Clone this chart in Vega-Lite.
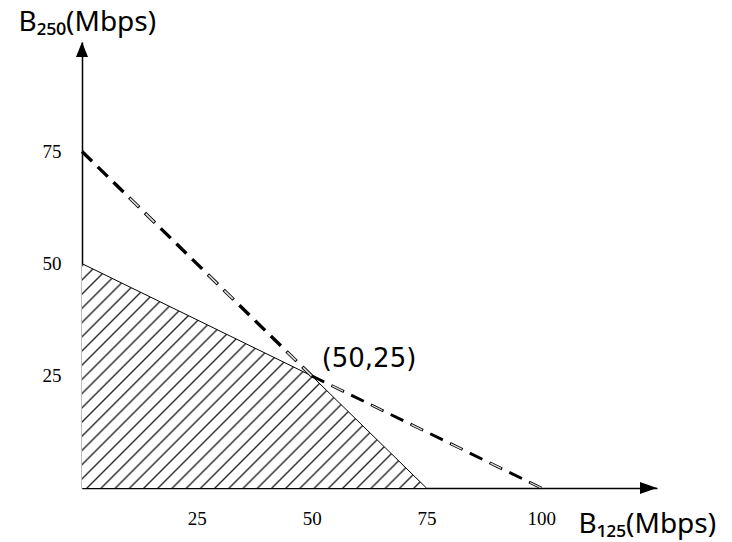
{
  "$schema": "https://vega.github.io/schema/vega-lite/v6.json",
  "width": 575,
  "height": 446,
  "autosize": {"type": "none"},
  "padding": {"left": 82, "top": 42, "right": 75, "bottom": 54},
  "background": "white",
  "config": {"view": {"stroke": null}},
  "datasets": {
    "feasible": [
      {"b125": 0, "b250": 50},
      {"b125": 50, "b250": 25},
      {"b125": 75, "b250": 0}
    ],
    "bound": [
      {"c": "A", "b125": 0, "b250": 75},
      {"c": "A", "b125": 50, "b250": 25},
      {"c": "B", "b125": 50, "b250": 25},
      {"c": "B", "b125": 100, "b250": 0}
    ],
    "one": [{"label": "(50,25)"}]
  },
  "layer": [
    {
      "data": {"name": "feasible"},
      "mark": {
        "type": "area",
        "color": {
          "gradient": "linear",
          "x1": 0, "y1": 0, "x2": 1.159, "y2": 0.755,
          "stops": [
            {"offset": 0, "color": "white"}, {"offset": 0.0035, "color": "#2a2a2a"}, {"offset": 0.007, "color": "white"},
            {"offset": 0.025, "color": "white"}, {"offset": 0.0285, "color": "#2a2a2a"}, {"offset": 0.032, "color": "white"},
            {"offset": 0.05, "color": "white"}, {"offset": 0.0535, "color": "#2a2a2a"}, {"offset": 0.057, "color": "white"},
            {"offset": 0.075, "color": "white"}, {"offset": 0.0785, "color": "#2a2a2a"}, {"offset": 0.082, "color": "white"},
            {"offset": 0.1, "color": "white"}, {"offset": 0.1035, "color": "#2a2a2a"}, {"offset": 0.107, "color": "white"},
            {"offset": 0.125, "color": "white"}, {"offset": 0.1285, "color": "#2a2a2a"}, {"offset": 0.132, "color": "white"},
            {"offset": 0.15, "color": "white"}, {"offset": 0.1535, "color": "#2a2a2a"}, {"offset": 0.157, "color": "white"},
            {"offset": 0.175, "color": "white"}, {"offset": 0.1785, "color": "#2a2a2a"}, {"offset": 0.182, "color": "white"},
            {"offset": 0.2, "color": "white"}, {"offset": 0.2035, "color": "#2a2a2a"}, {"offset": 0.207, "color": "white"},
            {"offset": 0.225, "color": "white"}, {"offset": 0.2285, "color": "#2a2a2a"}, {"offset": 0.232, "color": "white"},
            {"offset": 0.25, "color": "white"}, {"offset": 0.2535, "color": "#2a2a2a"}, {"offset": 0.257, "color": "white"},
            {"offset": 0.275, "color": "white"}, {"offset": 0.2785, "color": "#2a2a2a"}, {"offset": 0.282, "color": "white"},
            {"offset": 0.3, "color": "white"}, {"offset": 0.3035, "color": "#2a2a2a"}, {"offset": 0.307, "color": "white"},
            {"offset": 0.325, "color": "white"}, {"offset": 0.3285, "color": "#2a2a2a"}, {"offset": 0.332, "color": "white"},
            {"offset": 0.35, "color": "white"}, {"offset": 0.3535, "color": "#2a2a2a"}, {"offset": 0.357, "color": "white"},
            {"offset": 0.375, "color": "white"}, {"offset": 0.3785, "color": "#2a2a2a"}, {"offset": 0.382, "color": "white"},
            {"offset": 0.4, "color": "white"}, {"offset": 0.4035, "color": "#2a2a2a"}, {"offset": 0.407, "color": "white"},
            {"offset": 0.425, "color": "white"}, {"offset": 0.4285, "color": "#2a2a2a"}, {"offset": 0.432, "color": "white"},
            {"offset": 0.45, "color": "white"}, {"offset": 0.4535, "color": "#2a2a2a"}, {"offset": 0.457, "color": "white"},
            {"offset": 0.475, "color": "white"}, {"offset": 0.4785, "color": "#2a2a2a"}, {"offset": 0.482, "color": "white"},
            {"offset": 0.5, "color": "white"}, {"offset": 0.5035, "color": "#2a2a2a"}, {"offset": 0.507, "color": "white"},
            {"offset": 0.525, "color": "white"}, {"offset": 0.5285, "color": "#2a2a2a"}, {"offset": 0.532, "color": "white"},
            {"offset": 0.55, "color": "white"}, {"offset": 0.5535, "color": "#2a2a2a"}, {"offset": 0.557, "color": "white"},
            {"offset": 0.575, "color": "white"}, {"offset": 0.5785, "color": "#2a2a2a"}, {"offset": 0.582, "color": "white"},
            {"offset": 0.6, "color": "white"}, {"offset": 0.6035, "color": "#2a2a2a"}, {"offset": 0.607, "color": "white"},
            {"offset": 0.625, "color": "white"}, {"offset": 0.6285, "color": "#2a2a2a"}, {"offset": 0.632, "color": "white"},
            {"offset": 0.65, "color": "white"}, {"offset": 0.6535, "color": "#2a2a2a"}, {"offset": 0.657, "color": "white"},
            {"offset": 0.675, "color": "white"}, {"offset": 0.6785, "color": "#2a2a2a"}, {"offset": 0.682, "color": "white"},
            {"offset": 0.7, "color": "white"}, {"offset": 0.7035, "color": "#2a2a2a"}, {"offset": 0.707, "color": "white"},
            {"offset": 0.725, "color": "white"}, {"offset": 0.7285, "color": "#2a2a2a"}, {"offset": 0.732, "color": "white"},
            {"offset": 0.75, "color": "white"}, {"offset": 0.7535, "color": "#2a2a2a"}, {"offset": 0.757, "color": "white"},
            {"offset": 0.775, "color": "white"}, {"offset": 0.7785, "color": "#2a2a2a"}, {"offset": 0.782, "color": "white"},
            {"offset": 0.8, "color": "white"}, {"offset": 0.8035, "color": "#2a2a2a"}, {"offset": 0.807, "color": "white"},
            {"offset": 0.825, "color": "white"}, {"offset": 0.8285, "color": "#2a2a2a"}, {"offset": 0.832, "color": "white"},
            {"offset": 0.85, "color": "white"}, {"offset": 0.8535, "color": "#2a2a2a"}, {"offset": 0.857, "color": "white"},
            {"offset": 0.875, "color": "white"}, {"offset": 0.8785, "color": "#2a2a2a"}, {"offset": 0.882, "color": "white"},
            {"offset": 0.9, "color": "white"}, {"offset": 0.9035, "color": "#2a2a2a"}, {"offset": 0.907, "color": "white"},
            {"offset": 0.925, "color": "white"}, {"offset": 0.9285, "color": "#2a2a2a"}, {"offset": 0.932, "color": "white"},
            {"offset": 0.95, "color": "white"}, {"offset": 0.9535, "color": "#2a2a2a"}, {"offset": 0.957, "color": "white"},
            {"offset": 0.975, "color": "white"}, {"offset": 0.9785, "color": "#2a2a2a"}, {"offset": 0.982, "color": "white"},
            {"offset": 1, "color": "white"}
          ]
        }
      },
      "encoding": {
        "x": {
          "field": "b125", "type": "quantitative",
          "scale": {"domain": [0, 125.2], "nice": false},
          "axis": {
            "values": [25, 50, 75, 100],
            "ticks": false, "grid": false,
            "domainColor": "black", "domainWidth": 1.5,
            "labelFont": "Liberation Serif", "labelFontSize": 19, "labelColor": "black",
            "labelPadding": 21,
            "title": "B₁₂₅(Mbps)",
            "titleFont": "Noto Sans", "titleFontSize": 28, "titleFontWeight": "normal", "titleColor": "black",
            "titleAngle": 0, "titleAlign": "left", "titleBaseline": "middle",
            "titleX": 496, "titleY": 36
          }
        },
        "y": {
          "field": "b250", "type": "quantitative",
          "scale": {"domain": [0, 99.4], "nice": false},
          "axis": {
            "values": [25, 50, 75],
            "ticks": false, "grid": false,
            "domainColor": "black", "domainWidth": 1.5,
            "labelFont": "Liberation Serif", "labelFontSize": 19, "labelColor": "black",
            "labelPadding": 21,
            "title": "B₂₅₀(Mbps)",
            "titleFont": "Noto Sans", "titleFontSize": 28, "titleFontWeight": "normal", "titleColor": "black",
            "titleAngle": 0, "titleAlign": "left", "titleBaseline": "middle",
            "titleX": -64, "titleY": -20
          }
        }
      }
    },
    {
      "data": {"name": "feasible"},
      "mark": {"type": "line", "color": "black", "strokeWidth": 1},
      "encoding": {
        "x": {"field": "b125", "type": "quantitative", "scale": {"domain": [0, 125.2], "nice": false}},
        "y": {"field": "b250", "type": "quantitative", "scale": {"domain": [0, 99.4], "nice": false}}
      }
    },
    {
      "data": {"name": "bound"},
      "transform": [{"filter": "datum.c == 'A'"}],
      "mark": {"type": "line", "color": "black", "strokeWidth": 3.4, "strokeDash": [14, 8], "strokeCap": "butt"},
      "encoding": {
        "x": {"field": "b125", "type": "quantitative", "scale": {"domain": [0, 125.2], "nice": false}},
        "y": {"field": "b250", "type": "quantitative", "scale": {"domain": [0, 99.4], "nice": false}}
      }
    },
    {
      "data": {"name": "bound"},
      "transform": [{"filter": "datum.c == 'A'"}],
      "mark": {"type": "line", "color": "#dadada", "strokeWidth": 1.7, "strokeDash": [12, 10, 12, 76], "strokeDashOffset": -67, "strokeCap": "butt"},
      "encoding": {
        "x": {"field": "b125", "type": "quantitative", "scale": {"domain": [0, 125.2], "nice": false}},
        "y": {"field": "b250", "type": "quantitative", "scale": {"domain": [0, 99.4], "nice": false}}
      }
    },
    {
      "data": {"name": "bound"},
      "transform": [{"filter": "datum.c == 'B'"}],
      "mark": {"type": "line", "color": "black", "strokeWidth": 2.9, "strokeDash": [14, 8], "strokeCap": "butt"},
      "encoding": {
        "x": {"field": "b125", "type": "quantitative", "scale": {"domain": [0, 125.2], "nice": false}},
        "y": {"field": "b250", "type": "quantitative", "scale": {"domain": [0, 99.4], "nice": false}}
      }
    },
    {
      "data": {"name": "bound"},
      "transform": [{"filter": "datum.c == 'B'"}],
      "mark": {"type": "line", "color": "#dadada", "strokeWidth": 1.3, "strokeDash": [12, 32], "strokeDashOffset": -23, "strokeCap": "butt"},
      "encoding": {
        "x": {"field": "b125", "type": "quantitative", "scale": {"domain": [0, 125.2], "nice": false}},
        "y": {"field": "b250", "type": "quantitative", "scale": {"domain": [0, 99.4], "nice": false}}
      }
    },
    {
      "data": {"name": "one"},
      "mark": {"type": "text", "font": "DejaVu Sans", "fontSize": 26, "align": "left", "baseline": "middle", "dx": 10, "dy": -17, "color": "black"},
      "encoding": {
        "text": {"field": "label"},
        "x": {"datum": 50, "type": "quantitative", "scale": {"domain": [0, 125.2], "nice": false}},
        "y": {"datum": 25, "type": "quantitative", "scale": {"domain": [0, 99.4], "nice": false}}
      }
    },
    {
      "data": {"name": "one"},
      "mark": {"type": "point", "shape": "M0,0L-1,-0.35L-1,0.35Z", "size": 1156, "filled": true, "color": "black", "opacity": 1},
      "encoding": {
        "x": {"datum": 125.2, "type": "quantitative", "scale": {"domain": [0, 125.2], "nice": false}},
        "y": {"datum": 0, "type": "quantitative", "scale": {"domain": [0, 99.4], "nice": false}}
      }
    },
    {
      "data": {"name": "one"},
      "mark": {"type": "point", "shape": "M0,0L-0.4,1L0.4,1Z", "size": 900, "filled": true, "color": "black", "opacity": 1},
      "encoding": {
        "x": {"datum": 0, "type": "quantitative", "scale": {"domain": [0, 125.2], "nice": false}},
        "y": {"datum": 99.4, "type": "quantitative", "scale": {"domain": [0, 99.4], "nice": false}}
      }
    }
  ]
}
